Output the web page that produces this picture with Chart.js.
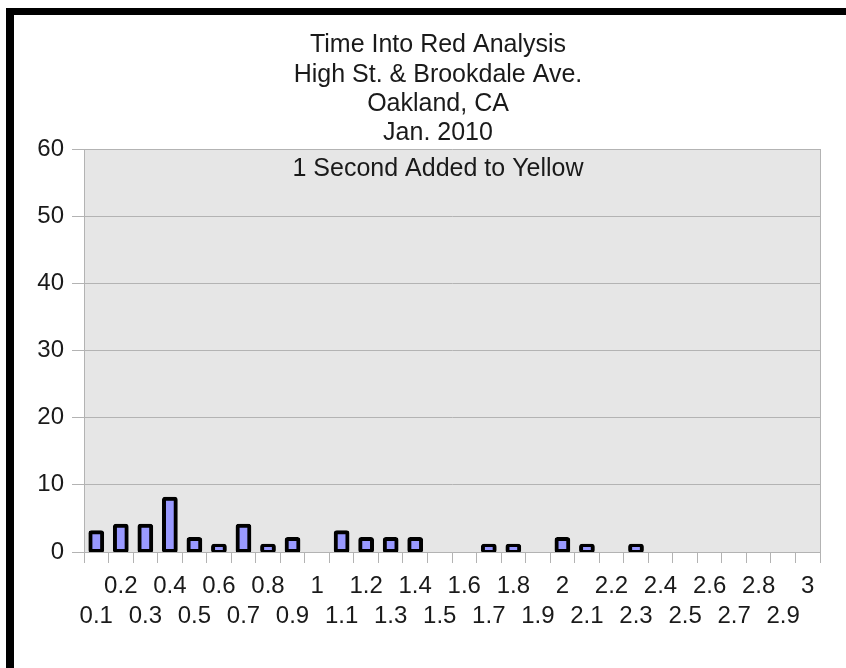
<!DOCTYPE html>
<html>
<head>
<meta charset="utf-8">
<script src="https://cdn.jsdelivr.net/npm/chart.js@4/dist/chart.umd.min.js"></script>
<style>
    body { margin: 0; background: #fff; }
    #wrap { position: relative; width: 846px; height: 668px; overflow: hidden; }
    #chart { position: absolute; left: 0; top: 0; }
    #frame {
        position: absolute; left: 6px; top: 8px; right: -20px; bottom: -20px;
        border-top: 7px solid #000; border-left: 8px solid #000;
        pointer-events: none;
    }
</style>
</head>
<body>
<div id="wrap">
    <canvas id="chart" width="846" height="668"></canvas>
    <div id="frame"></div>
</div>
<script>
// Chart data
const titleLines = ['Time Into Red Analysis', 'High St. & Brookdale Ave.', 'Oakland, CA', 'Jan. 2010'];
const subTitle = '1 Second Added to Yellow';

const categories = ['0.1', '0.2', '0.3', '0.4', '0.5', '0.6', '0.7', '0.8', '0.9', '1',
    '1.1', '1.2', '1.3', '1.4', '1.5', '1.6', '1.7', '1.8', '1.9', '2',
    '2.1', '2.2', '2.3', '2.4', '2.5', '2.6', '2.7', '2.8', '2.9', '3'];
const counts = [3, 4, 4, 8, 2, 1, 4, 1, 2, 0,
    3, 2, 2, 2, 0, 0, 1, 1, 0, 2,
    1, 0, 1, 0, 0, 0, 0, 0, 0, 0];
const yTicks = [0, 10, 20, 30, 40, 50, 60];

const FONT = '"Liberation Sans", Arial, sans-serif';
const GRID = '#b3b3b3';

// Plot background, outline and title text
const decorPlugin = {
    id: 'decor',
    beforeDraw(chart) {
        const { ctx, chartArea: a } = chart;
        ctx.save();
        ctx.fillStyle = '#e6e6e6';
        ctx.fillRect(a.left, a.top, a.right - a.left, a.bottom - a.top);
        ctx.restore();
    },
    afterDraw(chart) {
        const { ctx, chartArea: a } = chart;
        ctx.save();
        ctx.strokeStyle = GRID;
        ctx.lineWidth = 1;
        ctx.beginPath();
        ctx.moveTo(a.right + 0.5, a.top);
        ctx.lineTo(a.right + 0.5, a.bottom);
        ctx.stroke();

        ctx.fillStyle = '#1a1a1a';
        ctx.textAlign = 'center';
        ctx.textBaseline = 'alphabetic';
        ctx.font = '25px ' + FONT;
        const cx = 438;
        const baselines = [52, 82, 111, 140];
        titleLines.forEach((line, i) => ctx.fillText(line, cx, baselines[i]));
        ctx.fillText(subTitle, cx, 176);
        ctx.restore();
    }
};

new Chart(document.getElementById('chart'), {
    type: 'bar',
    data: {
        labels: categories,
        datasets: [{
            data: counts,
            backgroundColor: '#9999ff',
            borderColor: '#000',
            borderWidth: 4,
            borderRadius: 3,
            borderSkipped: false,
            inflateAmount: 1.5,
            barPercentage: 0.52,
            categoryPercentage: 1
        }]
    },
    options: {
        responsive: false,
        animation: false,
        layout: { padding: { left: 0, top: 149, right: 26, bottom: 0 } },
        plugins: {
            legend: { display: false },
            title: { display: false },
            tooltip: { enabled: false }
        },
        scales: {
            x: {
                afterFit: scale => { scale.height = 116; },
                grid: {
                    offset: true,
                    drawOnChartArea: false,
                    drawTicks: true,
                    tickLength: 11,
                    color: GRID
                },
                border: { display: true, color: GRID },
                ticks: {
                    autoSkip: false,
                    maxRotation: 0,
                    padding: 8,
                    color: '#1a1a1a',
                    font: { family: FONT, size: 24, lineHeight: '30px' },
                    callback: (val, i) => i % 2 === 1 ? [categories[i], ''] : ['', categories[i]]
                }
            },
            y: {
                min: 0,
                max: 60,
                afterFit: scale => { scale.width = 84; },
                afterBuildTicks: scale => { scale.ticks = yTicks.map(v => ({ value: v })); },
                grid: { color: GRID, tickLength: 12 },
                border: { display: true, color: GRID },
                ticks: {
                    padding: 8,
                    color: '#1a1a1a',
                    font: { family: FONT, size: 24 }
                }
            }
        }
    },
    plugins: [decorPlugin]
});
</script>
</body>
</html>
